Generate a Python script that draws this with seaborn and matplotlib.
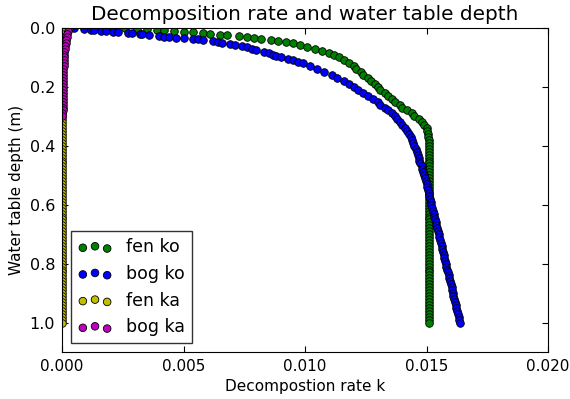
import numpy as np
import pandas as pd
import matplotlib
matplotlib.use("Agg")
import matplotlib.pyplot as plt
import seaborn as sns

# ---------------- data ----------------
fen_ko_depth = [0.000, 0.000, 0.001, 0.001, 0.002, 0.004, 0.006, 0.008, 0.010, 0.012,
                0.015, 0.018, 0.020, 0.023, 0.025, 0.027, 0.030, 0.033, 0.036, 0.040,
                0.043, 0.047, 0.052, 0.057, 0.063, 0.070, 0.077, 0.085, 0.093, 0.100,
                0.110, 0.120, 0.130, 0.140, 0.150, 0.160, 0.170, 0.180, 0.190, 0.200,
                0.210, 0.220, 0.230, 0.240, 0.250, 0.260, 0.270, 0.280, 0.290, 0.300,
                0.310, 0.320, 0.330, 0.340, 0.350, 0.360, 0.370, 0.380, 0.390, 0.400,
                0.41, 0.42, 0.43, 0.44, 0.45, 0.46, 0.47, 0.48, 0.49, 0.50,
                0.51, 0.52, 0.53, 0.54, 0.55, 0.56, 0.57, 0.58, 0.59, 0.60,
                0.61, 0.62, 0.63, 0.64, 0.65, 0.66, 0.67, 0.68, 0.69, 0.70,
                0.71, 0.72, 0.73, 0.74, 0.75, 0.76, 0.77, 0.78, 0.79, 0.80,
                0.81, 0.82, 0.83, 0.84, 0.85, 0.86, 0.87, 0.88, 0.89, 0.90,
                0.91, 0.92, 0.93, 0.94, 0.95, 0.96, 0.97, 0.98, 0.99, 1.00]
fen_ko_k = [0.0012, 0.0016, 0.0021, 0.0026, 0.0031, 0.0035, 0.0039, 0.0042, 0.0046, 0.0050,
            0.0054, 0.0058, 0.0061, 0.0065, 0.0068, 0.0073, 0.0076, 0.0079, 0.0082, 0.0086,
            0.0089, 0.0092, 0.0095, 0.0098, 0.0101, 0.0104, 0.0107, 0.0110, 0.0112, 0.0114,
            0.0116, 0.0118, 0.0120, 0.0121, 0.0123, 0.0124, 0.0126, 0.0127, 0.0129, 0.0130,
            0.0131, 0.0133, 0.0134, 0.0136, 0.0137, 0.0139, 0.0140, 0.0142, 0.0144, 0.0145,
            0.0147, 0.0148, 0.0149, 0.0150, 0.01503, 0.01506, 0.01508, 0.01509, 0.0151, 0.0151,
            0.0151, 0.0151, 0.0151, 0.0151, 0.0151, 0.0151, 0.0151, 0.0151, 0.0151, 0.0151,
            0.0151, 0.0151, 0.0151, 0.0151, 0.0151, 0.0151, 0.0151, 0.0151, 0.0151, 0.0151,
            0.0151, 0.0151, 0.0151, 0.0151, 0.0151, 0.0151, 0.0151, 0.0151, 0.0151, 0.0151,
            0.0151, 0.0151, 0.0151, 0.0151, 0.0151, 0.0151, 0.0151, 0.0151, 0.0151, 0.0151,
            0.0151, 0.0151, 0.0151, 0.0151, 0.0151, 0.0151, 0.0151, 0.0151, 0.0151, 0.0151,
            0.0151, 0.0151, 0.0151, 0.0151, 0.0151, 0.0151, 0.0151, 0.0151, 0.0151, 0.0151]

bog_ko_depth = [0.000, 0.001, 0.003, 0.006, 0.008, 0.010, 0.011, 0.013, 0.014, 0.016,
                0.018, 0.020, 0.021, 0.024, 0.027, 0.029, 0.031, 0.033, 0.034, 0.036,
                0.039, 0.042, 0.045, 0.048, 0.051, 0.054, 0.057, 0.061, 0.065, 0.070,
                0.075, 0.080, 0.085, 0.090, 0.095, 0.100, 0.105, 0.110, 0.115, 0.120,
                0.130, 0.140, 0.150, 0.160, 0.170, 0.180, 0.190, 0.200, 0.210, 0.220,
                0.230, 0.240, 0.250, 0.260, 0.270, 0.280, 0.290, 0.300, 0.310, 0.320,
                0.330, 0.340, 0.350, 0.360, 0.370, 0.380, 0.390, 0.400, 0.41, 0.42,
                0.43, 0.44, 0.45, 0.46, 0.47, 0.48, 0.49, 0.50, 0.51, 0.52,
                0.53, 0.54, 0.55, 0.56, 0.57, 0.58, 0.59, 0.60, 0.61, 0.62,
                0.63, 0.64, 0.65, 0.66, 0.67, 0.68, 0.69, 0.70, 0.71, 0.72,
                0.73, 0.74, 0.75, 0.76, 0.77, 0.78, 0.79, 0.80, 0.81, 0.82,
                0.83, 0.84, 0.85, 0.86, 0.87, 0.88, 0.89, 0.90, 0.91, 0.92,
                0.93, 0.94, 0.95, 0.96, 0.97, 0.98, 0.99, 1.00]
bog_ko_k = [0.0003, 0.0005, 0.0009, 0.0012, 0.0013, 0.0016, 0.0018, 0.0021, 0.0023, 0.0027,
            0.0029, 0.0032, 0.0033, 0.0036, 0.0040, 0.0042, 0.0044, 0.0047, 0.0050, 0.0054,
            0.0056, 0.0058, 0.0062, 0.0064, 0.0066, 0.0069, 0.0071, 0.0074, 0.0076, 0.0078,
            0.0080, 0.0083, 0.0085, 0.0087, 0.0088, 0.0090, 0.0093, 0.0095, 0.0097, 0.0099,
            0.0102, 0.0105, 0.0108, 0.0111, 0.0113, 0.0116, 0.0118, 0.0120, 0.0122, 0.0124,
            0.0126, 0.0128, 0.0130, 0.0131, 0.0133, 0.0134, 0.0136, 0.0137, 0.0138, 0.0139,
            0.0140, 0.0141, 0.0142, 0.0143, 0.01435, 0.0144, 0.01445, 0.0145, 0.01455, 0.0146,
            0.01465, 0.01468, 0.01471, 0.01475, 0.0148, 0.01483, 0.01487, 0.0149, 0.01493, 0.01496,
            0.0150, 0.01503, 0.01507, 0.0151, 0.01512, 0.01514, 0.01517, 0.0152, 0.01523, 0.01526,
            0.01529, 0.01532, 0.01535, 0.01538, 0.01541, 0.01544, 0.01547, 0.0155, 0.01553, 0.01556,
            0.01559, 0.01562, 0.01565, 0.01567, 0.0157, 0.01573, 0.01576, 0.01579, 0.01582, 0.01585,
            0.01588, 0.01591, 0.01594, 0.01597, 0.0160, 0.01603, 0.01606, 0.01609, 0.01611, 0.01614,
            0.01617, 0.0162, 0.01623, 0.01626, 0.01629, 0.01632, 0.01635, 0.01638]

fen_ka_depth = [0.00, 0.01, 0.02, 0.03, 0.04, 0.05, 0.06, 0.07, 0.08, 0.09,
                0.10, 0.11, 0.12, 0.13, 0.14, 0.15, 0.16, 0.17, 0.18, 0.19,
                0.20, 0.21, 0.22, 0.23, 0.24, 0.25, 0.26, 0.27, 0.28, 0.29,
                0.30, 0.31, 0.32, 0.33, 0.34, 0.35, 0.36, 0.37, 0.38, 0.39,
                0.40, 0.41, 0.42, 0.43, 0.44, 0.45, 0.46, 0.47, 0.48, 0.49,
                0.50, 0.51, 0.52, 0.53, 0.54, 0.55, 0.56, 0.57, 0.58, 0.59,
                0.60, 0.61, 0.62, 0.63, 0.64, 0.65, 0.66, 0.67, 0.68, 0.69,
                0.70, 0.71, 0.72, 0.73, 0.74, 0.75, 0.76, 0.77, 0.78, 0.79,
                0.80, 0.81, 0.82, 0.83, 0.84, 0.85, 0.86, 0.87, 0.88, 0.89,
                0.90, 0.91, 0.92, 0.93, 0.94, 0.95, 0.96, 0.97, 0.98, 0.99, 1.00]
fen_ka_k = [0.00001, 0.00001, 0.00001, 0.00001, 0.00001, 0.00001, 0.00001, 0.00001, 0.00001, 0.00001,
            0.00001, 0.00001, 0.00001, 0.00001, 0.00001, 0.00001, 0.00001, 0.00001, 0.00001, 0.00001,
            0.00001, 0.00001, 0.00001, 0.00001, 0.00001, 0.00001, 0.00001, 0.00001, 0.00001, 0.00001,
            0.00001, 0.00001, 0.00001, 0.00001, 0.00001, 0.00001, 0.00001, 0.00001, 0.00001, 0.00001,
            0.00001, 0.00001, 0.00001, 0.00001, 0.00001, 0.00001, 0.00001, 0.00001, 0.00001, 0.00001,
            0.00001, 0.00001, 0.00001, 0.00001, 0.00001, 0.00001, 0.00001, 0.00001, 0.00001, 0.00001,
            0.00001, 0.00001, 0.00001, 0.00001, 0.00001, 0.00001, 0.00001, 0.00001, 0.00001, 0.00001,
            0.00001, 0.00001, 0.00001, 0.00001, 0.00001, 0.00001, 0.00001, 0.00001, 0.00001, 0.00001,
            0.00001, 0.00001, 0.00001, 0.00001, 0.00001, 0.00001, 0.00001, 0.00001, 0.00001, 0.00001,
            0.00001, 0.00001, 0.00001, 0.00001, 0.00001, 0.00001, 0.00001, 0.00001, 0.00001, 0.00001, 0.00001]

bog_ka_depth = [0.00, 0.01, 0.02, 0.03, 0.04, 0.05, 0.06, 0.07, 0.08, 0.09,
                0.10, 0.11, 0.12, 0.13, 0.14, 0.15, 0.16, 0.17, 0.18, 0.19,
                0.20, 0.21, 0.22, 0.23, 0.24, 0.25, 0.26, 0.27, 0.28, 0.29, 0.30]
bog_ka_k = [0.00028, 0.00025, 0.00022, 0.00020, 0.00017, 0.00015, 0.00013, 0.00012, 0.00010, 0.00009,
            0.00008, 0.00008, 0.00007, 0.00007, 0.00006, 0.00006, 0.00006, 0.00005, 0.00005, 0.00005,
            0.00004, 0.00004, 0.00004, 0.00003, 0.00003, 0.00003, 0.00002, 0.00002, 0.00002, 0.00001, 0.00001]

series_names = ["fen ko", "bog ko", "fen ka", "bog ka"]
series_colors = ["#008000", "#0000ff", "#bfbf00", "#bf00bf"]
x_ticks = [0.0, 0.005, 0.010, 0.015, 0.020]
y_ticks = [0.0, 0.2, 0.4, 0.6, 0.8, 1.0]

# ---------------- plotting ----------------
sns.set_style("white", {
    "axes.edgecolor": "black",
    "axes.labelcolor": "black",
    "text.color": "black",
    "xtick.direction": "in",
    "ytick.direction": "in",
    "xtick.top": True,
    "ytick.right": True,
    "xtick.bottom": True,
    "ytick.left": True,
    "xtick.color": "black",
    "ytick.color": "black",
    "axes.linewidth": 1.0,
})
plt.rcParams["font.family"] = ["DejaVu Sans"]
plt.rcParams["xtick.major.size"] = 4
plt.rcParams["ytick.major.size"] = 4

fig = plt.figure(figsize=(5.70, 3.99), dpi=100)
ax = fig.add_axes([0.1088, 0.1178, 0.8526, 0.8120])

datasets = [(fen_ko_k, fen_ko_depth), (bog_ko_k, bog_ko_depth),
            (fen_ka_k, fen_ka_depth), (bog_ka_k, bog_ka_depth)]
for (kv, dv), name, col in zip(datasets, series_names, series_colors):
    df = pd.DataFrame({"k": kv, "depth": dv})
    sns.scatterplot(data=df, x="k", y="depth", ax=ax, color=col, s=30,
                    edgecolor="black", linewidth=0.6, legend=False)
    ax.collections[-1].set_label(name)

ax.set_xlim(0, 0.02)
ax.set_ylim(1.1, 0.0)
ax.set_xticks(x_ticks)
ax.set_yticks(y_ticks)
ax.set_xticklabels([f"{v:.3f}" for v in x_ticks], fontsize=11)
ax.set_yticklabels([f"{v:.1f}" for v in y_ticks], fontsize=11.5)
ax.tick_params(axis="x", which="major", pad=5)
ax.tick_params(axis="y", which="major", pad=5)
ax.set_xlabel("Decompostion rate k", fontsize=11, color="black")
ax.set_ylabel("Water table depth (m)", fontsize=11, color="black")
ax.set_title("Decomposition rate and water table depth", fontsize=14.4, color="black")

leg = ax.legend(loc="lower left", scatterpoints=3, fontsize=12.5, frameon=True,
                fancybox=False, borderaxespad=0.5)
leg.get_frame().set_edgecolor("black")
leg.get_frame().set_linewidth(1.0)
for t in leg.get_texts():
    t.set_color("black")

fig.savefig("out.png", dpi=100)
